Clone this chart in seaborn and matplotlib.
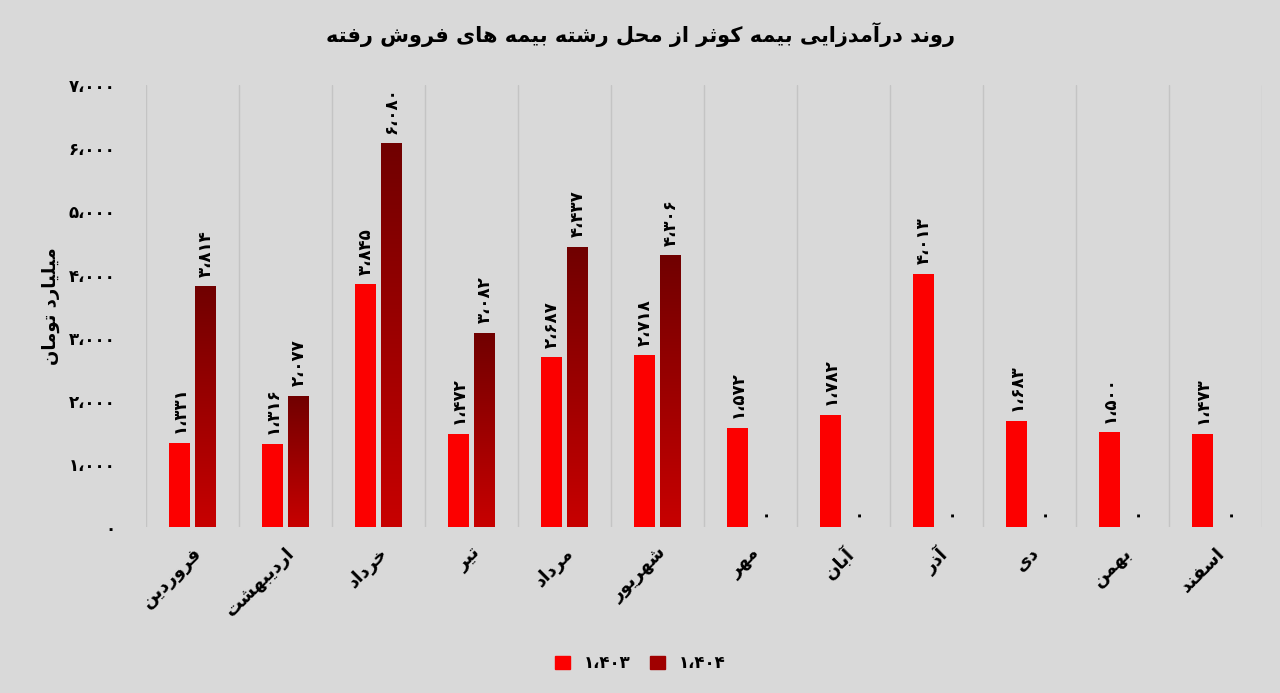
import matplotlib
matplotlib.use("Agg")
import matplotlib.pyplot as plt
import numpy as np
import pandas as pd
import seaborn as sns

# ---- data ----
months = ["فروردین", "اردیبهشت", "خرداد", "تیر", "مرداد", "شهریور",
          "مهر", "آبان", "آذر", "دی", "بهمن", "اسفند"]
years = ["1403", "1404"]
sales_1403 = [1331, 1316, 3845, 1472, 2687, 2718, 1572, 1782, 4013, 1683, 1500, 1473]
sales_1404 = [3814, 2077, 6080, 3082, 4437, 4306, 0, 0, 0, 0, 0, 0]
y_ticks = [0, 1000, 2000, 3000, 4000, 5000, 6000, 7000]

title = "روند درآمدزایی بیمه کوثر از محل رشته بیمه های فروش رفته"
y_label = "میلیارد تومان"

# ---- tiny persian shaper (matplotlib does no arabic shaping / bidi) ----
FORMS = {  # isolated, final, initial, medial
    "ا": ("\uFE8D", "\uFE8E", None, None),
    "آ": ("\uFE81", "\uFE82", None, None),
    "ب": ("\uFE8F", "\uFE90", "\uFE91", "\uFE92"),
    "ت": ("\uFE95", "\uFE96", "\uFE97", "\uFE98"),
    "ث": ("\uFE99", "\uFE9A", "\uFE9B", "\uFE9C"),
    "ح": ("\uFEA1", "\uFEA2", "\uFEA3", "\uFEA4"),
    "خ": ("\uFEA5", "\uFEA6", "\uFEA7", "\uFEA8"),
    "د": ("\uFEA9", "\uFEAA", None, None),
    "ذ": ("\uFEAB", "\uFEAC", None, None),
    "ر": ("\uFEAD", "\uFEAE", None, None),
    "ز": ("\uFEAF", "\uFEB0", None, None),
    "س": ("\uFEB1", "\uFEB2", "\uFEB3", "\uFEB4"),
    "ش": ("\uFEB5", "\uFEB6", "\uFEB7", "\uFEB8"),
    "ف": ("\uFED1", "\uFED2", "\uFED3", "\uFED4"),
    "ک": ("\uFB8E", "\uFB8F", "\uFB90", "\uFB91"),
    "ل": ("\uFEDD", "\uFEDE", "\uFEDF", "\uFEE0"),
    "م": ("\uFEE1", "\uFEE2", "\uFEE3", "\uFEE4"),
    "ن": ("\uFEE5", "\uFEE6", "\uFEE7", "\uFEE8"),
    "و": ("\uFEED", "\uFEEE", None, None),
    "ه": ("\uFEE9", "\uFEEA", "\uFEEB", "\uFEEC"),
    "ی": ("\uFBFC", "\uFBFD", "\uFBFE", "\uFBFF"),
}


def fa(text):
    out = []
    for i, ch in enumerate(text):
        if ch not in FORMS:
            out.append(ch)
            continue
        prev = text[i - 1] if i > 0 else ""
        nxt = text[i + 1] if i + 1 < len(text) else ""
        join_prev = prev in FORMS and FORMS[prev][2] is not None
        join_next = nxt in FORMS and FORMS[ch][2] is not None
        iso, fin, ini, med = FORMS[ch]
        if join_prev and join_next:
            out.append(med)
        elif join_prev:
            out.append(fin)
        elif join_next:
            out.append(ini)
        else:
            out.append(iso)
    return "".join(out)[::-1]


def fa_num(v):
    s = f"{v:,}".replace(",", "\u060C")
    return s.translate(str.maketrans("0123456789", "۰۱۲۳۴۵۶۷۸۹"))


df = pd.DataFrame({
    "month": months * 2,
    "year": [years[0]] * 12 + [years[1]] * 12,
    "value": sales_1403 + sales_1404,
})

bg = "#d9d9d9"
red = "#fc0000"
dark = "#a00000"

sns.set_style("white")
plt.rcParams["font.family"] = ["DejaVu Sans"]
plt.rcParams["text.color"] = "black"
plt.rcParams["xtick.color"] = "black"
plt.rcParams["ytick.color"] = "black"
plt.rcParams["axes.labelcolor"] = "black"

fig = plt.figure(figsize=(12.8, 6.93), dpi=100, facecolor=bg)
ax = fig.add_axes([0.114, 0.2395, 0.872, 0.6375])
ax.set_facecolor(bg)

sns.barplot(data=df, x="month", y="value", hue="year", order=months,
            palette=[red, dark], width=0.56, gap=0.2, ax=ax,
            saturation=1, legend=False, linewidth=0, edgecolor="none")

# gradient for the 1404 bars
grad = np.linspace(0, 1, 256).reshape(-1, 1)
cmap = matplotlib.colors.LinearSegmentedColormap.from_list("g", ["#c80000", "#700000"])
for p in ax.containers[1]:
    h = p.get_height()
    if h <= 0:
        continue
    x0 = p.get_x()
    im = ax.imshow(grad, cmap=cmap, aspect="auto", origin="lower",
                   extent=[x0, x0 + p.get_width(), 0, h], zorder=p.get_zorder() + 0.1)
    im.set_clip_path(p)

for cont, vals in zip(ax.containers, [sales_1403, sales_1404]):
    ax.bar_label(cont, labels=[fa_num(v) for v in vals], rotation=90,
                 padding=7, fontsize=12, fontweight="bold", color="black")

ax.set_xlim(-0.5, len(months) - 0.5)
ax.set_ylim(0, 7000)
ax.set_yticks(y_ticks)
ax.set_yticklabels([fa_num(v) for v in y_ticks], fontsize=12, fontweight="bold")
ax.set_xticks(range(len(months)))
ax.set_xticklabels([fa(m) for m in months], rotation=45, ha="right",
                   rotation_mode="anchor", fontsize=13, fontweight="bold")
ax.tick_params(axis="y", length=0, pad=22)
ax.tick_params(axis="x", length=0, pad=12)
ax.set_xlabel("")
ax.set_ylabel(fa(y_label), fontsize=13, fontweight="bold", labelpad=6)

# vertical separators between months
ax.set_xticks(np.arange(-0.5, len(months)), minor=True)
ax.tick_params(axis="x", which="minor", length=0)
ax.grid(axis="x", which="minor", color="#c4c4c4", linewidth=1)
ax.grid(axis="x", which="major", visible=False)
for s in ax.spines.values():
    s.set_visible(False)

fig.suptitle(fa(title), y=0.968, fontsize=15, fontweight="bold")

handles = [matplotlib.patches.Patch(color=red), matplotlib.patches.Patch(color=dark)]
fig.legend(handles, [fa_num(int(y)) for y in years],
           loc="center", bbox_to_anchor=(0.5, 0.043), ncol=2, frameon=False,
           handlelength=0.9, handleheight=0.9, columnspacing=1.2,
           prop={"weight": "bold", "size": 12})

fig.savefig("out.png", dpi=100, facecolor=bg)
